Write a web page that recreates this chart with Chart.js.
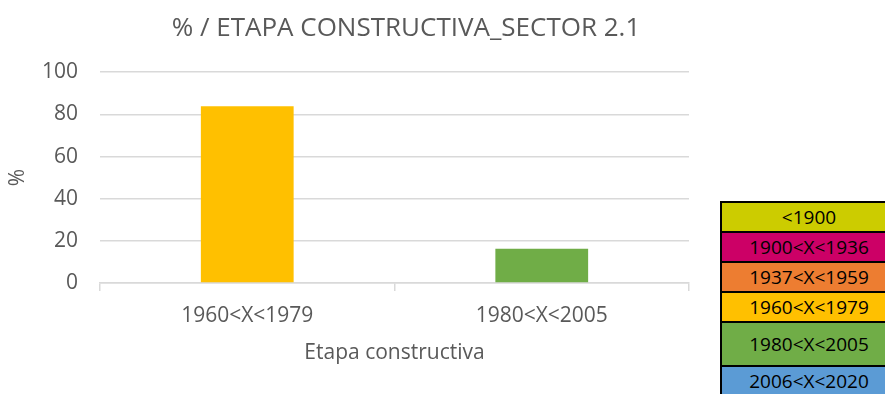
<!DOCTYPE html>
<html>
<head>
<meta charset="utf-8">
<script src="https://cdn.jsdelivr.net/npm/chart.js@4/dist/chart.umd.min.js"></script>
<style>
  html, body { margin: 0; padding: 0; background: #fff; }
  #wrap { position: relative; width: 885px; height: 394px; overflow: hidden; }
  #chartBox { position: absolute; left: 0; top: 0; width: 705px; height: 394px; }
  #periods { position: absolute; left: 720px; top: 201px; width: 178px; border-collapse: collapse;
             font-family: "Open Sans", sans-serif; font-size: 19px; color: #000; }
  #periods td { border: 2px solid #000; text-align: center; padding: 0; line-height: 1; }
</style>
</head>
<body>
<div id="wrap">
  <div id="chartBox"><canvas id="stageChart"></canvas></div>
  <table id="periods"></table>
</div>
<script>
// Construction periods present in the sector and their share (%)
const categories = ['1960<X<1979', '1980<X<2005'];
const shares = [83.8, 16.2];
const barColors = ['#FFC000', '#70AD47'];

// Colour key for all construction periods
const periodLabels = ['<1900', '1900<X<1936', '1937<X<1959', '1960<X<1979', '1980<X<2005', '2006<X<2020'];
const periodColors = ['#CCCC00', '#CC0066', '#ED7D31', '#FFC000', '#70AD47', '#5B9BD5'];
const periodHeights = [30, 30, 30, 30, 44, 30];

// Build the colour key table
let table = document.getElementById('periods');
periodLabels.forEach((label, i) => {
    let row = table.insertRow();
    let cell = row.insertCell();
    cell.textContent = label;
    cell.style.background = periodColors[i];
    cell.style.height = (periodHeights[i] - 2) + 'px';
});

const textGrey = '#595959';
const gridGrey = '#D9D9D9';
const font = 'Open Sans';

// The title is centred over the whole figure (chart + key), not just the plot
const wideTitle = {
    id: 'wideTitle',
    afterLayout(chart) {
        let t = chart.titleBlock;
        if (!t) return;
        t.left = 0;
        t.right = 812;
        t.width = 812;
    }
};

let ctx = document.getElementById('stageChart').getContext('2d');
let barChart = new Chart(ctx, {
    type: 'bar',
    data: {
        labels: categories,
        datasets: [{
            label: '%',
            data: shares,
            backgroundColor: barColors,
            barPercentage: 0.63,
            categoryPercentage: 0.5
        }]
    },
    options: {
        responsive: true,
        maintainAspectRatio: false,
        animation: false,
        layout: { padding: { left: 0, right: 16, top: 0, bottom: 28 } },
        plugins: {
            legend: { display: false },
            tooltip: { enabled: false },
            title: {
                display: true,
                text: '% / ETAPA CONSTRUCTIVA_SECTOR 2.1',
                color: textGrey,
                font: { family: font, size: 26, weight: 'normal' },
                padding: { top: 13, bottom: 28 }
            }
        },
        scales: {
            x: {
                grid: { drawOnChartArea: false, offset: true, color: gridGrey, tickLength: 8, lineWidth: 1.5 },
                border: { color: gridGrey, width: 1.5 },
                ticks: { color: textGrey, font: { family: font, size: 21 }, padding: 12 },
                title: {
                    display: true,
                    text: 'Etapa constructiva',
                    color: textGrey,
                    font: { family: font, size: 21 },
                    padding: { top: 0, bottom: 0 }
                },
                afterFit: s => { s.height = 83; }
            },
            y: {
                min: 0,
                max: 100,
                grid: { color: gridGrey, lineWidth: 1.5, drawTicks: false },
                border: { display: false },
                ticks: { stepSize: 20, color: textGrey, font: { family: font, size: 21 }, padding: 22 },
                title: {
                    display: true,
                    text: '%',
                    color: textGrey,
                    font: { family: font, size: 21 },
                    padding: { top: 5, bottom: 0 }
                },
                afterFit: s => { s.width = 100; }
            }
        }
    },
    plugins: [wideTitle]
});
</script>
</body>
</html>
